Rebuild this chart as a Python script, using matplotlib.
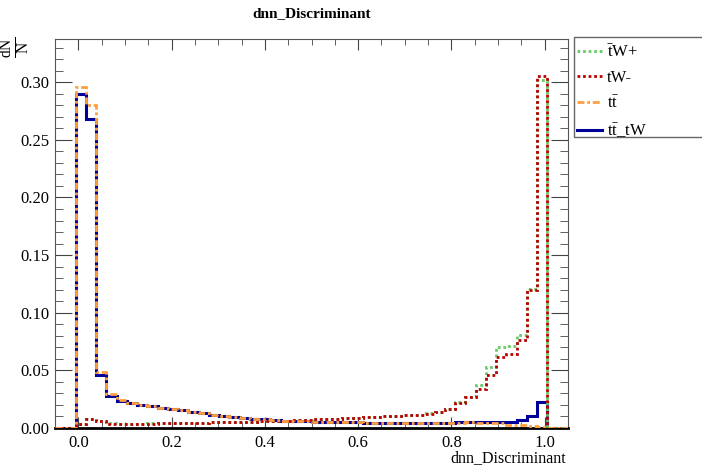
import matplotlib
matplotlib.use("Agg")
import matplotlib.pyplot as plt
import numpy as np

plt.rcParams['font.family'] = ['Liberation Serif', 'DejaVu Serif']
plt.rcParams['mathtext.fontset'] = 'custom'
plt.rcParams['mathtext.rm'] = 'Liberation Serif'
plt.rcParams['mathtext.it'] = 'Liberation Serif:italic'

# 50 bins from -0.05 to 1.05 (bin width 0.022)
x_lo = -0.05
x_hi = 1.05
n_bins = 50

# tbar W+  (bins 0..49)
tbarW_plus = [0, 0,
	0.0038, 0.0082, 0.0058, 0.0040, 0.0038, 0.0038, 0.0039, 0.0040, 0.0041, 0.0042,
	0.0044, 0.0045, 0.0047, 0.0048, 0.0050, 0.0052, 0.0054, 0.0056, 0.0058, 0.0061,
	0.0064, 0.0067, 0.0071, 0.0075, 0.0079, 0.0082, 0.0086, 0.0090, 0.0094, 0.0098,
	0.0102, 0.0106, 0.0111, 0.0117, 0.0126, 0.0140, 0.0168, 0.0222, 0.0273, 0.0371,
	0.0530, 0.0704, 0.0710, 0.0805, 0.1202, 0.3015,
	0, 0]

# t W-
tW_minus = [0, 0,
	0.0036, 0.0080, 0.0057, 0.0039, 0.0037, 0.0037, 0.0038, 0.0039, 0.0040, 0.0042,
	0.0043, 0.0045, 0.0046, 0.0048, 0.0050, 0.0051, 0.0053, 0.0055, 0.0058, 0.0060,
	0.0063, 0.0066, 0.0070, 0.0074, 0.0078, 0.0082, 0.0085, 0.0089, 0.0093, 0.0097,
	0.0101, 0.0105, 0.0110, 0.0116, 0.0125, 0.0138, 0.0166, 0.0220, 0.0270, 0.0342,
	0.0458, 0.0617, 0.0646, 0.0762, 0.1198, 0.3056,
	0, 0]

# t tbar
ttbar = [0, 0,
	0.2955, 0.2805, 0.0490, 0.0295, 0.0240, 0.0218, 0.0202, 0.0191, 0.0177, 0.0165,
	0.0155, 0.0140, 0.0128, 0.0117, 0.0107, 0.0097, 0.0089, 0.0081, 0.0075, 0.0070,
	0.0065, 0.0061, 0.0058, 0.0055, 0.0053, 0.0051, 0.0049, 0.0048, 0.0046, 0.0045,
	0.0043, 0.0042, 0.0042, 0.0043, 0.0043, 0.0044, 0.0046, 0.0047, 0.0048, 0.0047,
	0.0046, 0.0040, 0.0030, 0.0024, 0.0015, 0.0009,
	0, 0]

# t tbar _ tW
tt_tW = [0, 0,
	0.2897, 0.2680, 0.0460, 0.0278, 0.0235, 0.0215, 0.0200, 0.0190, 0.0175, 0.0163,
	0.0153, 0.0138, 0.0126, 0.0115, 0.0105, 0.0096, 0.0088, 0.0080, 0.0074, 0.0069,
	0.0065, 0.0061, 0.0058, 0.0055, 0.0053, 0.0051, 0.0049, 0.0048, 0.0047, 0.0045,
	0.0043, 0.0042, 0.0042, 0.0043, 0.0044, 0.0045, 0.0047, 0.0048, 0.0049, 0.0050,
	0.0051, 0.0052, 0.0053, 0.0073, 0.0102, 0.0226,
	0, 0]

labels = ['$\\bar{\\rm t}$W+', 'tW-', 't$\\bar{\\rm t}$', 't$\\bar{\\rm t}$_tW']

edges = np.linspace(x_lo, x_hi, n_bins + 1)

fig = plt.figure(figsize=(7.02, 4.67), dpi=100)
ax = fig.add_axes([55/702, 1 - 428/467, (568 - 55)/702, (428 - 39)/467])

h_blue = ax.stairs(tt_tW, edges, color='#000099', lw=2.2, zorder=2)
h_green = ax.stairs(tbarW_plus, edges, color='#66cc66', lw=2.0, ls=(0, (1, 1)), zorder=3)
h_red = ax.stairs(tW_minus, edges, color='#bb0000', lw=2.0, ls=(0, (1, 1)), zorder=4)
h_orange = ax.stairs(ttbar, edges, color='#ffa040', lw=2.0, ls=(0, (2.5, 1, 1, 1)), zorder=5)

ax.set_xlim(x_lo, x_hi)
ax.set_ylim(0, 0.3375)
ax.set_xticks(np.arange(0, 1.01, 0.2))
ax.set_xticks(np.arange(-0.05, 1.051, 0.05), minor=True)
ax.set_yticks(np.arange(0, 0.31, 0.05))
ax.set_yticks(np.arange(0, 0.335, 0.01), minor=True)
ax.xaxis.set_major_formatter(matplotlib.ticker.FormatStrFormatter('%.1f'))
ax.yaxis.set_major_formatter(matplotlib.ticker.FormatStrFormatter('%.2f'))
ax.tick_params(axis='both', which='both', direction='in', top=True, right=True,
	labelsize=12, color='#444444')
ax.tick_params(axis='x', which='major', length=8, pad=5)
ax.tick_params(axis='x', which='minor', length=4)
ax.tick_params(axis='y', which='major', length=12, pad=4)
ax.tick_params(axis='y', which='minor', length=6)
for s in ax.spines.values():
	s.set_color('#555555')
	s.set_linewidth(0.8)
ax.spines['bottom'].set_color('black')
ax.spines['bottom'].set_linewidth(2)

ax.set_title('dnn_Discriminant', fontsize=11, fontweight='bold', pad=16)
fig.text(566/702, 1 - 462/467, 'dnn_Discriminant', fontsize=11.5, ha='right', va='baseline')
fig.text(16/702, 1 - 37/467, '$\\frac{\\rm dN}{\\rm N}$', fontsize=16, rotation=90,
	ha='center', va='top')

# legend box (goes past the right edge like the original)
box = plt.Rectangle((574/702, 1 - 137/467), 0.25, 100.5/467, transform=fig.transFigure,
	facecolor='white', edgecolor='#666666', lw=1, zorder=1)
fig.patches.append(box)

leg = fig.legend([h_green, h_red, h_orange, h_blue], labels, loc='upper left',
	bbox_to_anchor=(577/702, 1 - 44/467), borderaxespad=0, borderpad=0,
	fontsize=12, handlelength=1.5, handletextpad=0.3,
	labelspacing=0.55, frameon=False)

plt.savefig("out.png", dpi=100)
